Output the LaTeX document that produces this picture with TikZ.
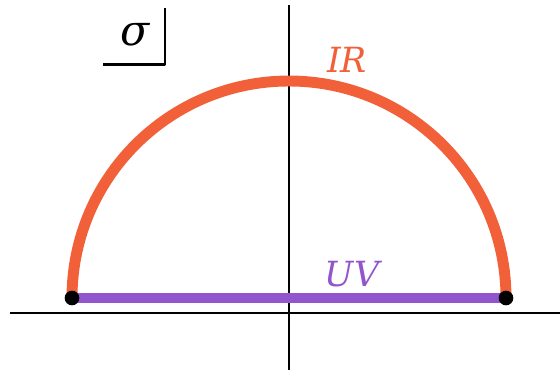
\documentclass[tikz,border=0pt]{standalone}
\usepackage{fontspec}
\setmainfont{DejaVu Serif}
\usetikzlibrary{calc}
\definecolor{irorange}{RGB}{242,96,58}
\definecolor{uvpurple}{RGB}{145,86,206}
\tikzset{
    lab/.style={
        font=\fontsize{26}{32}\selectfont\itshape
    }
}
\begin{document}
\begin{tikzpicture}[x=0.75pt,y=-0.75pt,line cap=round,line join=round]
    \useasboundingbox (0,0) rectangle (560,374);

% --- geometry (pixel units of the reference) ---
    \def\R{217}                       % radius of the half circle
    \coordinate (O) at (289,298);     % centre on the UV segment
    \coordinate (L) at ($(O)+(-\R,0)$);
    \coordinate (Rt) at ($(O)+(\R,0)$);

% axes
    \draw[line width=0.9pt, line cap=butt] (10,313) -- (560,313);
    \draw[line width=0.9pt, line cap=butt] (289,5) -- (289,370);

% IR half circle
    \draw[irorange, line width=8.2pt, line cap=butt] (Rt) arc[start angle=0, end angle=-180, radius=\R];

% UV segment
    \draw[uvpurple, line width=7.2pt, line cap=butt] (L) -- (Rt);

% end points
    \fill (L) circle (5.5pt);
    \fill (Rt) circle (5.5pt);

% labels
    \node[lab, text=irorange] (ir) at (347,60) {IR};
    \node[lab, text=uvpurple] (uv) at (352,274) {UV};

% sigma corner mark
    \node[lab, font=\fontsize{32}{40}\selectfont\itshape] (sig) at (135,35) {σ};
    \draw[line width=2.2pt, line cap=butt] (103,64.5) -- (165,64.5) -- (165,8);

\end{tikzpicture}
\end{document}
